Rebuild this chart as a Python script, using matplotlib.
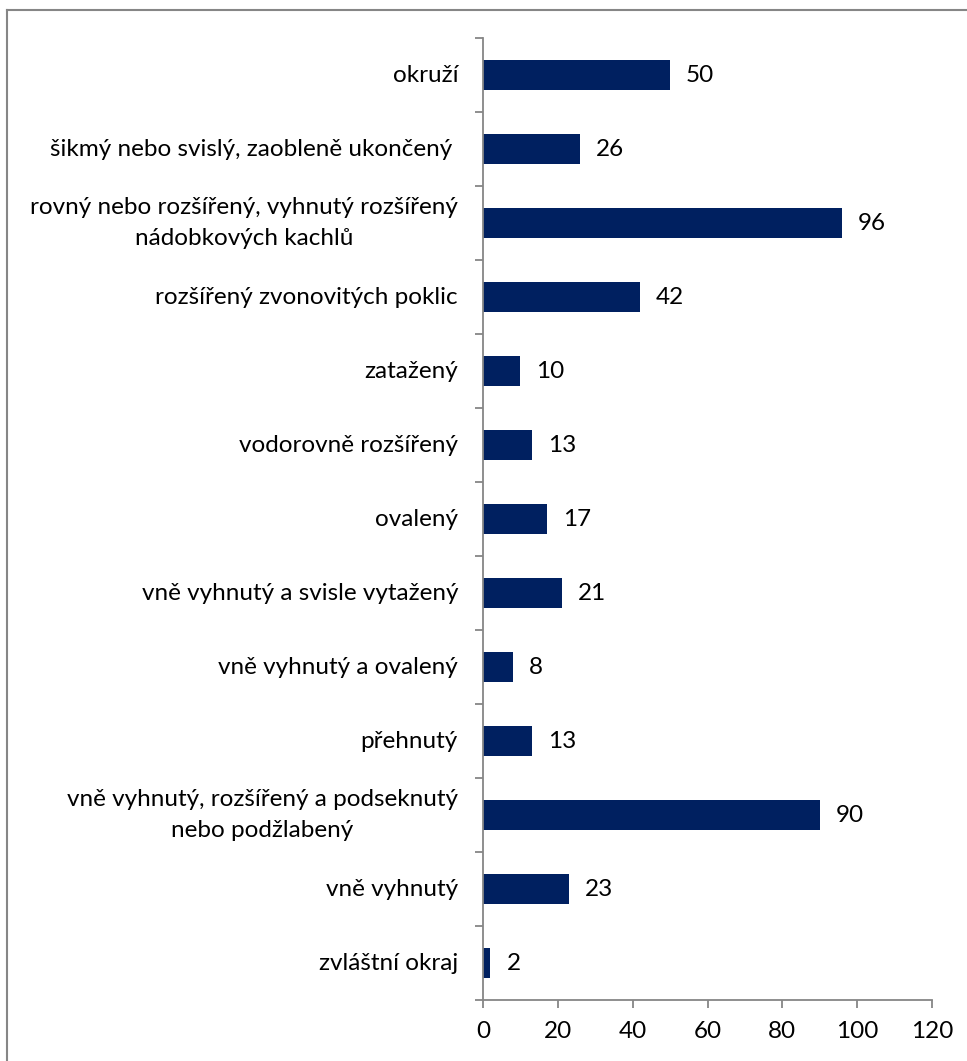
import matplotlib
matplotlib.use("Agg")
import matplotlib.pyplot as plt
from matplotlib.lines import Line2D

# data (top to bottom, as in the chart)
categories = [
    "okruží",
    "šikmý nebo svislý, zaobleně ukončený ",
    "rovný nebo rozšířený, vyhnutý rozšířený\nnádobkových kachlů",
    "rozšířený zvonovitých poklic",
    "zatažený",
    "vodorovně rozšířený",
    "ovalený",
    "vně vyhnutý a svisle vytažený",
    "vně vyhnutý a ovalený",
    "přehnutý",
    "vně vyhnutý, rozšířený a podseknutý\nnebo podžlabený",
    "vně vyhnutý",
    "zvláštní okraj",
]
counts = [50, 26, 96, 42, 10, 13, 17, 21, 8, 13, 90, 23, 2]
x_ticks = [0, 20, 40, 60, 80, 100, 120]

plt.rcParams['font.family'] = ['Lato', 'DejaVu Sans']

W, H = 967, 1061
fig = plt.figure(figsize=(W / 100, H / 100), dpi=100)
ax = fig.add_axes([483 / W, 1 - 1000 / H, (932 - 483) / W, (1000 - 38) / H])

axis_col = '#868686'
bar_col = '#002060'
fs = 17.5

n = len(categories)
ypos = list(range(n))
ax.barh(ypos, counts, height=0.4, color=bar_col)

ax.set_ylim(n - 0.5, -0.5)
ax.set_xlim(0, 120)

for y, v in zip(ypos, counts):
    ax.annotate(str(v), (v, y), xytext=(11.5, 0), textcoords='offset points',
                ha='left', va='center', fontsize=fs, color='black')

# category labels
ax.set_yticks([])
for y, lab in zip(ypos, categories):
    ax.annotate(lab, (0, y), xytext=(-18, 0), textcoords='offset points',
                ha='right', va='center', ma='center', fontsize=fs,
                color='black', linespacing=1.6)

# boundary ticks on the category axis
ax.set_yticks([i - 0.5 for i in range(n + 1)], minor=True)
ax.tick_params(axis='y', which='minor', direction='out', length=6,
               color=axis_col, width=1.3, labelleft=False)

ax.set_xticks(x_ticks)
ax.set_xticklabels([str(t) for t in x_ticks], fontsize=fs)
ax.tick_params(axis='x', direction='out', length=6, color=axis_col,
               width=1.3, pad=9)

for side in ['top', 'right']:
    ax.spines[side].set_visible(False)
for side in ['left', 'bottom']:
    ax.spines[side].set_color(axis_col)
    ax.spines[side].set_linewidth(1.3)

# outer chart frame (only left and top visible in the crop)
fig.add_artist(Line2D([7 / W, 7 / W], [0, 1 - 10 / H], transform=fig.transFigure,
                      color=axis_col, lw=1.5))
fig.add_artist(Line2D([7 / W, 1], [1 - 10 / H, 1 - 10 / H], transform=fig.transFigure,
                      color=axis_col, lw=1.5))

fig.savefig('out.png', dpi=100)
